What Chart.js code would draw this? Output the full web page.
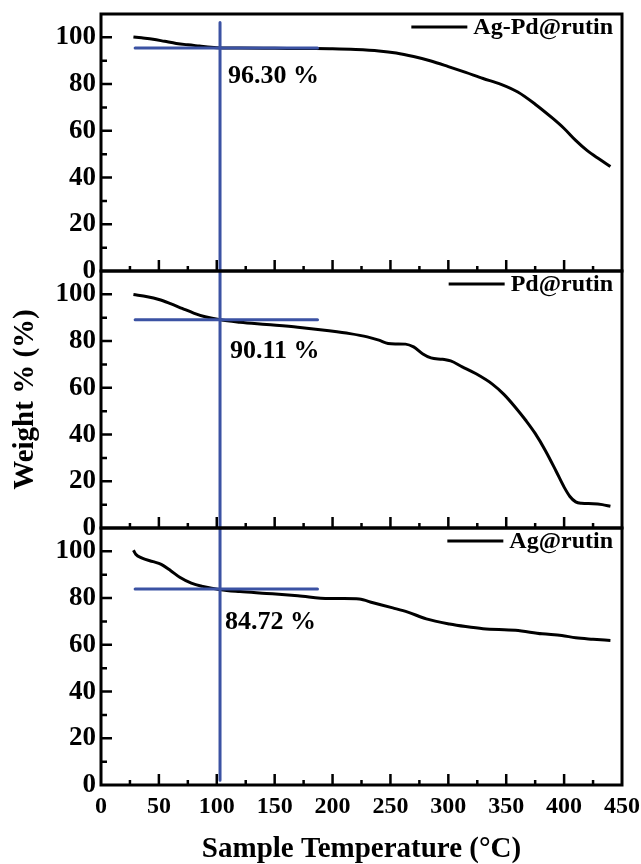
<!DOCTYPE html>
<html>
<head>
<meta charset="utf-8">
<script src="https://cdn.jsdelivr.net/npm/chart.js@4/dist/chart.umd.min.js"></script>
<style>
  html, body { margin: 0; padding: 0; background: #fff; }
</style>
</head>
<body>
<canvas id="tga" width="641" height="864"></canvas>
<script>
// --- TGA curves (temperature in °C, weight in %) ---
const agPdTemp   = [28, 35, 45, 55, 65, 75, 85, 95, 105, 120, 150, 180, 200, 220, 240, 255, 270, 285, 300, 315, 330, 345, 360, 375, 390, 400, 410, 420, 430, 440];
const agPdWeight = [100.2, 99.8, 99.2, 98.3, 97.4, 96.8, 96.3, 95.8, 95.5, 95.4, 95.3, 95.2, 95.1, 94.8, 94.2, 93.3, 91.8, 89.9, 87.5, 85.0, 82.4, 80.0, 76.6, 71.4, 65.4, 61.0, 55.9, 51.5, 48.0, 44.7];

const pdTemp   = [28, 40, 50, 60, 70, 80, 90, 103, 120, 143, 170, 197, 215, 230, 240, 248, 255, 263, 270, 278, 285, 295, 302, 312, 324, 338, 348, 358, 367, 375, 384, 393, 400, 405, 410, 415, 425, 433, 440];
const pdWeight = [99.9, 99.0, 97.8, 96.0, 94.0, 92.0, 90.4, 89.1, 88.1, 87.1, 85.9, 84.4, 83.2, 81.8, 80.4, 79.0, 78.8, 78.7, 77.5, 74.5, 72.8, 72.2, 71.5, 69.0, 66.0, 61.6, 57.2, 51.6, 46.0, 40.5, 33.0, 24.4, 17.5, 13.5, 11.2, 10.6, 10.4, 10.0, 9.3];

const agTemp   = [28, 30, 35, 45, 52, 60, 68, 78, 88, 103, 120, 143, 170, 197, 210, 223, 235, 252, 265, 281, 301, 315, 330, 358, 381, 398, 410, 425, 440];
const agWeight = [100.5, 98.8, 97.2, 95.6, 94.4, 91.8, 88.9, 86.4, 85.0, 83.6, 82.8, 82.0, 81.0, 79.8, 79.8, 79.6, 78.0, 75.8, 74.0, 71.1, 68.9, 67.8, 66.9, 66.2, 64.7, 64.0, 63.0, 62.4, 61.9];

const sampleNames = ['Ag-Pd@rutin', 'Pd@rutin', 'Ag@rutin'];

// blue guide lines: one vertical marker at ~103 °C plus a level in each panel
const markerTemp   = 102.8;
const markerSpan   = [29.5, 187];
const markerLevels = [95.4, 89.1, 83.9];
const markerTexts  = ['96.30 %', '90.11 %', '84.72 %'];
const markerTop    = [106.4, 110, 110];
const markerBottom = [0, 0, 2];

const weightTicks = [0, 20, 40, 60, 80, 100];
const tempTicks   = [0, 50, 100, 150, 200, 250, 300, 350, 400, 450];

const BLUE = '#3b52a3';
const FONT = '"Liberation Serif", "Times New Roman", serif';
const panelIds = ['yTop', 'yMid', 'yBot'];

const toPoints = (xs, ys) => xs.map((x, i) => ({ x, y: ys[i] }));

function curve(xs, ys, axis) {
  return {
    data: toPoints(xs, ys),
    yAxisID: axis,
    borderColor: '#000',
    borderWidth: 3,
    pointRadius: 0,
    cubicInterpolationMode: 'monotone',
    order: 2
  };
}

function blueLine(points, axis) {
  return {
    data: points,
    yAxisID: axis,
    borderColor: BLUE,
    borderWidth: 3,
    borderCapStyle: 'round',
    pointRadius: 0,
    tension: 0,
    order: 1
  };
}

const datasets = [
  curve(agPdTemp, agPdWeight, 'yTop'),
  curve(pdTemp, pdWeight, 'yMid'),
  curve(agTemp, agWeight, 'yBot')
];
panelIds.forEach((id, i) => {
  datasets.push(blueLine([{ x: markerSpan[0], y: markerLevels[i] }, { x: markerSpan[1], y: markerLevels[i] }], id));
  datasets.push(blueLine([{ x: markerTemp, y: markerTop[i] }, { x: markerTemp, y: markerBottom[i] }], id));
});

// frames, inward ticks, legends and the % labels for every panel
const panelDecor = {
  id: 'panelDecor',
  afterDatasetsDraw(chart) {
    const { ctx, chartArea, scales } = chart;
    const xs = scales.x;
    const left = chartArea.left, right = chartArea.right;
    ctx.save();
    ctx.strokeStyle = '#000';
    ctx.fillStyle = '#000';
    panelIds.forEach((id, i) => {
      const ys = scales[id];
      ctx.lineWidth = 2.5;
      ctx.beginPath();
      // y ticks pointing in
      for (let v = 10; v < 110; v += 10) {
        const py = ys.getPixelForValue(v);
        const len = v % 20 === 0 ? 11 : 6;
        ctx.moveTo(left, py);
        ctx.lineTo(left + len, py);
      }
      // x ticks on the bottom edge of each panel
      for (let t = 25; t < 450; t += 25) {
        const px = xs.getPixelForValue(t);
        const len = t % 50 === 0 ? 11 : 5;
        ctx.moveTo(px, ys.bottom);
        ctx.lineTo(px, ys.bottom - len);
      }
      ctx.stroke();

      ctx.lineWidth = 3;
      ctx.strokeRect(left, ys.top, right - left, ys.bottom - ys.top);

      // legend
      ctx.font = 'bold 24px ' + FONT;
      ctx.textBaseline = 'middle';
      ctx.textAlign = 'right';
      const ly = ys.top + 13;
      const textRight = right - 9;
      const tw = ctx.measureText(sampleNames[i]).width;
      ctx.fillText(sampleNames[i], textRight, ly + 1);
      ctx.beginPath();
      ctx.moveTo(textRight - tw - 62, ly);
      ctx.lineTo(textRight - tw - 6, ly);
      ctx.stroke();

      // percentage label
      ctx.font = 'bold 26px ' + FONT;
      ctx.textAlign = 'left';
      const labelPos = [[109.7, 83.2], [111.4, 75.6], [107, 69.7]][i];
      ctx.fillText(markerTexts[i], xs.getPixelForValue(labelPos[0]), ys.getPixelForValue(labelPos[1]));
    });
    ctx.restore();
  }
};

function weightAxis(showTitle) {
  return {
    type: 'linear',
    position: 'left',
    stack: 'panels',
    stackWeight: 1,
    min: 0,
    max: 110,
    afterBuildTicks: axis => { axis.ticks = weightTicks.map(v => ({ value: v })); },
    afterFit: axis => {
      axis.width = 101;
      axis.paddingTop = 0;
      axis.paddingBottom = 0;
    },
    grid: { display: false, drawTicks: false },
    border: { display: false },
    ticks: {
      color: '#000',
      padding: 5,
      autoSkip: false,
      font: { family: FONT, size: 27, weight: 'bold' }
    },
    title: {
      display: showTitle,
      text: 'Weight % (%)',
      color: '#000',
      padding: { top: 11, bottom: 0 },
      font: { family: FONT, size: 29, weight: 'bold', lineHeight: 1 }
    }
  };
}

new Chart(document.getElementById('tga'), {
  type: 'line',
  data: { datasets },
  options: {
    responsive: false,
    animation: false,
    layout: { padding: { top: 14, right: 19, left: 0, bottom: 0 } },
    plugins: { legend: { display: false }, tooltip: { enabled: false } },
    scales: {
      x: {
        type: 'linear',
        min: 0,
        max: 450,
        afterBuildTicks: axis => { axis.ticks = tempTicks.map(v => ({ value: v })); },
        afterFit: axis => {
          axis.height = 79;
          axis.paddingLeft = 0;
          axis.paddingRight = 0;
        },
        grid: { display: false, drawTicks: false },
        border: { display: false },
        ticks: {
          color: '#000',
          padding: 7,
          maxRotation: 0,
          autoSkip: false,
          font: { family: FONT, size: 24, weight: 'bold' }
        },
        title: {
          display: true,
          text: 'Sample Temperature (°C)',
          color: '#000',
          padding: { top: 0, bottom: 0 },
          font: { family: FONT, size: 29, weight: 'bold', lineHeight: 1 }
        }
      },
      yBot: weightAxis(false),
      yMid: weightAxis(true),
      yTop: weightAxis(false)
    }
  },
  plugins: [panelDecor]
});
</script>
</body>
</html>
